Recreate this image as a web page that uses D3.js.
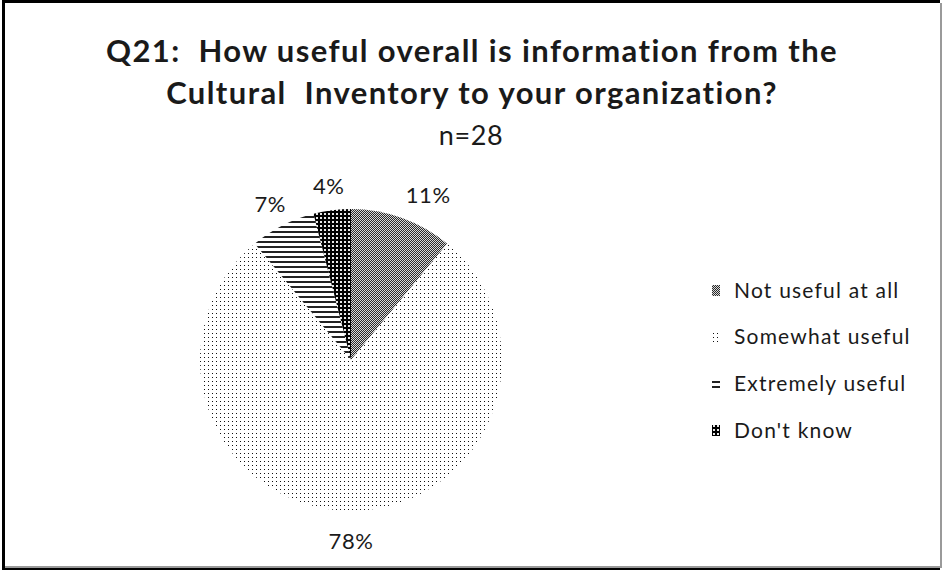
<!DOCTYPE html>
<html>
<head>
<meta charset="utf-8">
<script src="https://cdn.jsdelivr.net/npm/d3@7"></script>
<style>
  html, body { margin: 0; padding: 0; background: #fff; }
  svg { display: block; }
  text { font-family: Lato, "Open Sans", sans-serif; fill: #1a1a1a; white-space: pre; }
  pattern rect { shape-rendering: crispEdges; }
</style>
</head>
<body>
<svg id="chart" width="943" height="571"></svg>
<script>
// Survey responses, Q21 (n = 28)
const titleLines = ["Q21:  How useful overall is information from the",
                    "Cultural  Inventory to your organization?"];
const subtitle = "n=28";
const categories = ["Not useful at all", "Somewhat useful", "Extremely useful", "Don't know"];
const percents = [11, 78, 7, 4];
const patternIds = ["pat-gray", "pat-dots", "pat-lines", "pat-dark"];

const W = 943, H = 571;
const svg = d3.select("#chart");
const defs = svg.append("defs");

function makePattern(id, w, h, bg) {
  const p = defs.append("pattern").attr("id", id)
    .attr("patternUnits", "userSpaceOnUse").attr("width", w).attr("height", h);
  p.append("rect").attr("width", w).attr("height", h).attr("fill", bg);
  return p;
}

// Monochrome pattern fills, one per category
const pGray = makePattern("pat-gray", 2, 2, "#d8d8d8");
pGray.append("rect").attr("x", 0).attr("y", 0).attr("width", 1).attr("height", 1).attr("fill", "#2a2a2a");
pGray.append("rect").attr("x", 1).attr("y", 1).attr("width", 1).attr("height", 1).attr("fill", "#2a2a2a");

const pDots = makePattern("pat-dots", 4, 4, "#fff");
pDots.append("rect").attr("x", 1).attr("y", 1).attr("width", 1).attr("height", 1).attr("fill", "#111");

const pLines = makePattern("pat-lines", 8, 5, "#fff");
pLines.append("rect").attr("x", 0).attr("y", 1).attr("width", 8).attr("height", 2).attr("fill", "#222");

const pDark = makePattern("pat-dark", 4, 4, "#000");
pDark.append("rect").attr("x", 1).attr("y", 1).attr("width", 2).attr("height", 2).attr("fill", "#e8e8e8");

// Frame: dark top/left/bottom edge, light grey inner shadow on the right and bottom
svg.append("rect").attr("x", 2).attr("y", 0).attr("width", 938).attr("height", 570).attr("fill", "#000");
svg.append("rect").attr("x", 5).attr("y", 3).attr("width", 937).attr("height", 565).attr("fill", "#9a9a9a");
svg.append("rect").attr("x", 5).attr("y", 3).attr("width", 935).attr("height", 563).attr("fill", "#fff");

// Title
const title = svg.append("text").attr("text-anchor", "middle")
  .style("font-weight", "bold").style("font-size", "31px").style("letter-spacing", "1.4px");
titleLines.forEach((t, i) => {
  title.append("tspan").attr("x", 472).attr("y", 62 + i * 42).text(t);
});
svg.append("text").attr("x", 471).attr("y", 145).attr("text-anchor", "middle")
  .style("font-size", "27px").style("letter-spacing", "0.6px").text(subtitle);

// Pie
const cx = 351, cy = 360, R = 151;
const pie = d3.pie().sort(null).value(d => d.value);
const arcs = pie(categories.map((c, i) => ({ name: c, value: percents[i], pat: patternIds[i] })));
const arc = d3.arc().innerRadius(0).outerRadius(R);
const labelArc = d3.arc().innerRadius(R + 27).outerRadius(R + 27);

const g = svg.append("g").attr("transform", `translate(${cx},${cy})`);
g.selectAll("path").data(arcs).join("path")
  .attr("d", arc)
  .attr("fill", d => `url(#${d.data.pat})`);

// Value labels placed just outside each slice
g.selectAll("text.pct").data(arcs).join("text")
  .attr("class", "pct")
  .attr("transform", d => {
    const [x, y] = labelArc.centroid(d);
    const a = (d.startAngle + d.endAngle) / 2;
    return `translate(${x + Math.max(0, Math.sin(a)) * 50},${y + 3})`;
  })
  .attr("text-anchor", "middle")
  .attr("dy", "0.36em")
  .style("font-size", "22px").style("letter-spacing", "0.6px")
  .text(d => d.data.value + "%");

// Legend
const legendY = d3.scalePoint().domain(categories).range([290, 430]);
const lg = svg.append("g");
categories.forEach((c, i) => {
  const y = legendY(c);
  lg.append("rect").attr("x", 712).attr("y", Math.round(y - 5)).attr("width", 8).attr("height", 11)
    .attr("fill", `url(#${patternIds[i]})`);
  lg.append("text").attr("x", 734).attr("y", y).attr("dy", "0.36em")
    .style("font-size", "21px").style("letter-spacing", "1.2px").text(c);
});
</script>
</body>
</html>
